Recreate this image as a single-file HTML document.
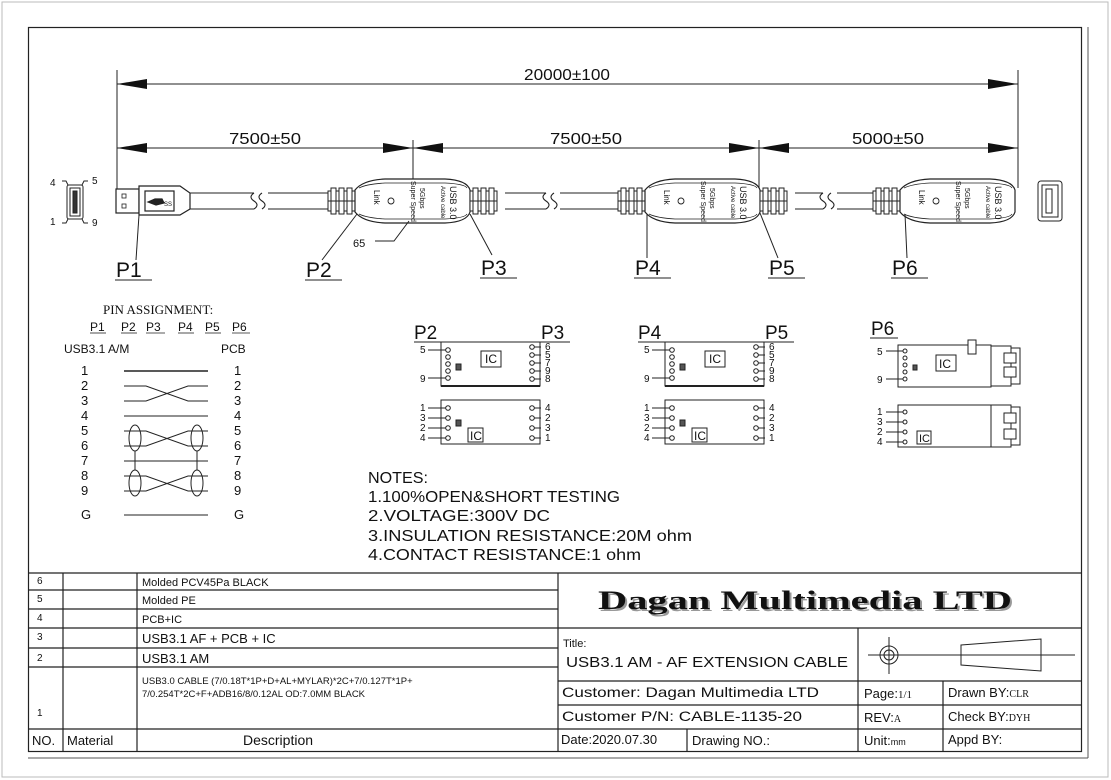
<!DOCTYPE html>
<html><head><meta charset="utf-8"><style>
html,body{margin:0;padding:0;background:#fff}
svg{display:block}
text{font-family:"Liberation Sans",sans-serif;fill:#111}
</style></head><body>
<svg width="1111" height="780" viewBox="0 0 1111 780" xmlns="http://www.w3.org/2000/svg">
<defs>
<g id="strain" fill="#fff" stroke="#222" stroke-width="1">
<rect x="0" y="191" width="27" height="20"/>
<rect x="3" y="188" width="5" height="26"/><rect x="11" y="188" width="5" height="26"/><rect x="19" y="188" width="5" height="26"/>
<line x1="0" y1="201" x2="27" y2="201"/>
</g>
<g id="body" fill="#fff" stroke="#222" stroke-width="1.2">
<path d="M0,190 Q8,180 30,179 L90,179 Q112,180 115,190 L115,212 Q112,222 90,223 L30,223 Q8,222 0,212 Z"/>
<path d="M4,188 Q12,184 30,183 L90,183 Q110,184 112,188" fill="none" stroke-width="0.8"/>
<path d="M4,214 Q12,218 30,219 L90,219 Q110,218 112,214" fill="none" stroke-width="0.8"/>
<circle cx="36" cy="201" r="3" fill="none" stroke-width="0.9"/>
</g>
<g id="ichi" fill="#fff" stroke="#222" stroke-width="1">
<rect x="0" y="0" width="99" height="44"/>
<line x1="0" y1="44" x2="99" y2="44" stroke-width="2"/>
<circle cx="7" cy="8" r="2.3"/><circle cx="7" cy="15" r="2.3"/><circle cx="7" cy="22" r="2.3"/><circle cx="7" cy="29" r="2.3"/><circle cx="7" cy="36" r="2.3"/>
<line x1="-13" y1="8" x2="5" y2="8"/><line x1="-13" y1="36" x2="5" y2="36"/>
<rect x="15" y="22" width="5" height="6" fill="#555"/>
<rect x="40" y="9" width="20" height="16"/>
<circle cx="91" cy="5" r="2.3"/><circle cx="91" cy="13" r="2.3"/><circle cx="91" cy="21" r="2.3"/><circle cx="91" cy="29" r="2.3"/><circle cx="91" cy="37" r="2.3"/>
<line x1="93" y1="5" x2="100" y2="5"/><line x1="93" y1="13" x2="100" y2="13"/><line x1="93" y1="21" x2="100" y2="21"/><line x1="93" y1="29" x2="100" y2="29"/><line x1="93" y1="37" x2="100" y2="37"/>
</g>
<g id="iclo" fill="#fff" stroke="#222" stroke-width="1">
<rect x="0" y="0" width="99" height="44"/>
<circle cx="7" cy="8" r="2.3"/><circle cx="7" cy="18" r="2.3"/><circle cx="7" cy="28" r="2.3"/><circle cx="7" cy="38" r="2.3"/>
<line x1="-13" y1="8" x2="5" y2="8"/><line x1="-13" y1="18" x2="5" y2="18"/><line x1="-13" y1="28" x2="5" y2="28"/><line x1="-13" y1="38" x2="5" y2="38"/>
<rect x="15" y="20" width="5" height="6" fill="#555"/>
<rect x="27" y="28" width="15" height="14"/>
<circle cx="91" cy="8" r="2.3"/><circle cx="91" cy="18" r="2.3"/><circle cx="91" cy="28" r="2.3"/><circle cx="91" cy="38" r="2.3"/>
<line x1="93" y1="8" x2="100" y2="8"/><line x1="93" y1="18" x2="100" y2="18"/><line x1="93" y1="28" x2="100" y2="28"/><line x1="93" y1="38" x2="100" y2="38"/>
</g>
</defs>

<rect x="2" y="2" width="1106" height="775" fill="none" stroke="#bbb" stroke-width="1"/>
<rect x="28.5" y="27.5" width="1053" height="724" fill="none" stroke="#222" stroke-width="1.2"/>
<line x1="1088" y1="27" x2="1088" y2="758" stroke="#555"/>
<line x1="28" y1="758" x2="1088" y2="758" stroke="#555"/>

<g stroke="#222" stroke-width="1">
<line x1="117" y1="70" x2="117" y2="190"/>
<line x1="1018" y1="70" x2="1018" y2="188"/>
<line x1="413" y1="140" x2="413" y2="179"/>
<line x1="759" y1="140" x2="759" y2="188"/>
<line x1="117" y1="84" x2="1018" y2="84"/>
<line x1="117" y1="148" x2="1018" y2="148"/>
</g>
<g fill="#111">
<path d="M117,84 L147,79 L147,89Z"/><path d="M1018,84 L988,79 L988,89Z"/>
<path d="M117,148 L147,143 L147,153Z"/><path d="M413,148 L383,143 L383,153Z"/>
<path d="M413,148 L443,143 L443,153Z"/><path d="M759,148 L729,143 L729,153Z"/>
<path d="M759,148 L789,143 L789,153Z"/><path d="M1018,148 L988,143 L988,153Z"/>
</g>
<text x="524" y="80" font-size="16" textLength="86" lengthAdjust="spacingAndGlyphs">20000±100</text>
<text x="229" y="144" font-size="16" textLength="72" lengthAdjust="spacingAndGlyphs">7500±50</text>
<text x="550" y="144" font-size="16" textLength="72" lengthAdjust="spacingAndGlyphs">7500±50</text>
<text x="852" y="144" font-size="16" textLength="72" lengthAdjust="spacingAndGlyphs">5000±50</text>

<g stroke="#222" fill="#fff" stroke-width="1">
<rect x="67" y="185" width="16" height="34" rx="2"/>
<rect x="70" y="188" width="10" height="28"/>
<rect x="73" y="191" width="4" height="22" fill="#333"/>
<path d="M62,181 L66,181 L68,185 M88,181 L84,181 L82,185 M62,223 L66,223 L68,219 M88,223 L84,223 L82,219" fill="none"/>
</g>
<text x="50" y="186" font-size="10">4</text><text x="92" y="184" font-size="10">5</text>
<text x="50" y="225" font-size="10">1</text><text x="92" y="226" font-size="10">9</text>

<g stroke="#222" fill="#fff" stroke-width="1.2">
<rect x="116" y="189" width="23" height="24"/>
<rect x="122" y="194" width="4" height="4" fill="none" stroke-width="0.8"/><rect x="122" y="204" width="4" height="4" fill="none" stroke-width="0.8"/>
<path d="M139,186 L180,186 L190,193 L190,209 L180,215 L139,215 Z"/>
<rect x="145" y="191" width="29" height="20"/>
<path d="M148,202 L155,199 L162,199 L164,203 L156,205 Z" fill="#222"/>
</g>
<text x="164" y="206" font-size="6">SS</text>

<g stroke="#222" stroke-width="1.1" fill="none">
<path d="M190,193 L254,193 M190,209 L254,209 M268,193 L328,193 M268,209 L328,209"/>
<path d="M254,193 q-6,4 0,8 q6,4 0,8 M262,193 q-6,4 0,8 q6,4 0,8"/>
<path d="M505,193 L546,193 M505,209 L546,209 M560,193 L620,193 M560,209 L620,209"/>
<path d="M546,193 q-6,4 0,8 q6,4 0,8 M554,193 q-6,4 0,8 q6,4 0,8"/>
<path d="M795,193 L823,193 M795,209 L823,209 M837,193 L875,193 M837,209 L875,209"/>
<path d="M823,193 q-6,4 0,8 q6,4 0,8 M831,193 q-6,4 0,8 q6,4 0,8"/>
</g>

<use href="#strain" x="328"/><use href="#body" x="355"/><use href="#strain" x="470"/>
<use href="#strain" x="618"/><use href="#body" x="645"/><use href="#strain" x="760"/>
<use href="#strain" x="873"/><use href="#body" x="900"/>

<g font-size="8">
<text transform="translate(374,190) rotate(90)">Link</text>
<text transform="translate(411,181) rotate(90)" font-size="7">Super Speed</text>
<text transform="translate(420,188) rotate(90)" font-size="7">5Gbps</text>
<text transform="translate(450,186) rotate(90)" font-size="9">USB 3.0</text>
<text transform="translate(441,186) rotate(90)" font-size="6">Active cable</text>
<text transform="translate(664,190) rotate(90)">Link</text>
<text transform="translate(701,181) rotate(90)" font-size="7">Super Speed</text>
<text transform="translate(710,188) rotate(90)" font-size="7">5Gbps</text>
<text transform="translate(740,186) rotate(90)" font-size="9">USB 3.0</text>
<text transform="translate(731,186) rotate(90)" font-size="6">Active cable</text>
<text transform="translate(919,190) rotate(90)">Link</text>
<text transform="translate(956,181) rotate(90)" font-size="7">Super Speed</text>
<text transform="translate(965,188) rotate(90)" font-size="7">5Gbps</text>
<text transform="translate(995,186) rotate(90)" font-size="9">USB 3.0</text>
<text transform="translate(986,186) rotate(90)" font-size="6">Active cable</text>
</g>

<g stroke="#222" fill="#fff" stroke-width="1">
<rect x="1038" y="181" width="24" height="40" rx="3"/>
<rect x="1042" y="185" width="16" height="32"/>
<rect x="1046" y="189" width="6" height="24"/>
</g>

<g stroke="#222" stroke-width="1" fill="none">
<path d="M139,215 L136,260"/>
<path d="M357,214 L322,260"/>
<path d="M409,221 L394,241 L375,241"/>
<path d="M470,214 L492,255"/>
<path d="M647,214 L647,258"/>
<path d="M760,213 L778,258"/>
<path d="M905,214 L907,258"/>
<line x1="115" y1="280" x2="152" y2="280"/>
<line x1="305" y1="280" x2="342" y2="280"/>
<line x1="480" y1="278" x2="517" y2="278"/>
<line x1="634" y1="278" x2="671" y2="278"/>
<line x1="768" y1="278" x2="805" y2="278"/>
<line x1="891" y1="278" x2="928" y2="278"/>
</g>
<text x="353" y="247" font-size="11">65</text>
<g font-size="21">
<text x="116" y="277">P1</text><text x="306" y="277">P2</text><text x="481" y="275">P3</text>
<text x="635" y="275">P4</text><text x="769" y="275">P5</text><text x="892" y="275">P6</text>
</g>

<text x="103" y="314" font-size="13" style="font-family:'Liberation Serif',serif">PIN ASSIGNMENT:</text>
<g font-size="12">
<text x="90" y="331">P1</text><text x="121" y="331">P2</text><text x="146" y="331">P3</text>
<text x="178" y="331">P4</text><text x="205" y="331">P5</text><text x="232" y="331">P6</text>
</g>
<g stroke="#222" stroke-width="0.8">
<line x1="90" y1="333" x2="106" y2="333"/><line x1="121" y1="333" x2="137" y2="333"/><line x1="146" y1="333" x2="165" y2="333"/>
<line x1="178" y1="333" x2="194" y2="333"/><line x1="205" y1="333" x2="221" y2="333"/><line x1="232" y1="333" x2="250" y2="333"/>
</g>
<text x="64" y="353" font-size="12">USB3.1  A/M</text>
<text x="221" y="353" font-size="12">PCB</text>
<g font-size="13">
<text x="81" y="375">1</text><text x="81" y="390">2</text><text x="81" y="405">3</text><text x="81" y="420">4</text>
<text x="81" y="435">5</text><text x="81" y="450">6</text><text x="81" y="465">7</text><text x="81" y="480">8</text>
<text x="81" y="495">9</text><text x="81" y="519">G</text>
<text x="234" y="375">1</text><text x="234" y="390">2</text><text x="234" y="405">3</text><text x="234" y="420">4</text>
<text x="234" y="435">5</text><text x="234" y="450">6</text><text x="234" y="465">7</text><text x="234" y="480">8</text>
<text x="234" y="495">9</text><text x="234" y="519">G</text>
</g>
<g stroke="#222" stroke-width="1" fill="none">
<line x1="124" y1="371" x2="208" y2="371" stroke-width="1.4"/>
<path d="M124,386 L146,386 L188,401 L208,401 M124,401 L146,401 L188,386 L208,386"/>
<line x1="124" y1="416" x2="208" y2="416"/>
<path d="M124,431 L146,431 L188,446 L208,446 M124,446 L146,446 L188,431 L208,431"/>
<line x1="124" y1="461" x2="208" y2="461"/>
<path d="M124,476 L146,476 L188,491 L208,491 M124,491 L146,491 L188,476 L208,476"/>
<line x1="124" y1="515" x2="208" y2="515"/>
<ellipse cx="135" cy="438" rx="6" ry="13"/><ellipse cx="197" cy="438" rx="6" ry="13"/>
<ellipse cx="135" cy="483" rx="6" ry="13"/><ellipse cx="197" cy="483" rx="6" ry="13"/>
<line x1="135" y1="451" x2="135" y2="470"/><line x1="197" y1="451" x2="197" y2="470"/>
</g>

<g font-size="19"><text x="414" y="339">P2</text><text x="541" y="339">P3</text>
<text x="638" y="339">P4</text><text x="765" y="339">P5</text><text x="871" y="335">P6</text></g>
<g stroke="#222" stroke-width="0.9"><line x1="414" y1="342" x2="441" y2="342"/><line x1="540" y1="342" x2="570" y2="342"/>
<line x1="638" y1="342" x2="665" y2="342"/><line x1="764" y1="342" x2="794" y2="342"/><line x1="870" y1="338" x2="898" y2="338"/></g>
<use href="#ichi" x="441" y="342"/><use href="#iclo" x="441" y="400"/>
<use href="#ichi" x="665" y="342"/><use href="#iclo" x="665" y="400"/>
<g font-size="10">
<text x="420" y="353">5</text><text x="420" y="382">9</text>
<text x="545" y="350">6</text><text x="545" y="358">5</text><text x="545" y="366">7</text><text x="545" y="374">9</text><text x="545" y="382">8</text>
<text x="420" y="411">1</text><text x="420" y="421">3</text><text x="420" y="431">2</text><text x="420" y="441">4</text>
<text x="545" y="411">4</text><text x="545" y="421">2</text><text x="545" y="431">3</text><text x="545" y="441">1</text>
<text x="644" y="353">5</text><text x="644" y="382">9</text>
<text x="769" y="350">6</text><text x="769" y="358">5</text><text x="769" y="366">7</text><text x="769" y="374">9</text><text x="769" y="382">8</text>
<text x="644" y="411">1</text><text x="644" y="421">3</text><text x="644" y="431">2</text><text x="644" y="441">4</text>
<text x="769" y="411">4</text><text x="769" y="421">2</text><text x="769" y="431">3</text><text x="769" y="441">1</text>
</g>
<g font-size="12"><text x="485" y="363">IC</text><text x="709" y="363">IC</text><text x="470" y="440">IC</text><text x="694" y="440">IC</text></g>

<g stroke="#222" fill="#fff" stroke-width="1">
<rect x="898" y="345" width="93" height="42"/>
<rect x="968" y="340" width="8" height="14"/>
<rect x="991" y="346" width="20" height="40"/>
<rect x="1011" y="348" width="9" height="36"/>
<rect x="1004" y="353" width="12" height="10"/><rect x="1004" y="367" width="12" height="10"/>
<circle cx="905" cy="351" r="2"/><circle cx="905" cy="358" r="2"/><circle cx="905" cy="365" r="2"/><circle cx="905" cy="372" r="2"/><circle cx="905" cy="379" r="2"/>
<line x1="886" y1="351" x2="903" y2="351"/><line x1="886" y1="379" x2="903" y2="379"/>
<rect x="913" y="365" width="4" height="5" fill="#555"/>
<rect x="936" y="355" width="20" height="16"/>
<rect x="898" y="405" width="93" height="42"/>
<rect x="991" y="405" width="20" height="42"/>
<rect x="1011" y="407" width="9" height="38"/>
<rect x="1004" y="413" width="12" height="10"/><rect x="1004" y="429" width="12" height="10"/>
<circle cx="905" cy="412" r="2"/><circle cx="905" cy="422" r="2"/><circle cx="905" cy="432" r="2"/><circle cx="905" cy="442" r="2"/>
<line x1="886" y1="412" x2="903" y2="412"/><line x1="886" y1="422" x2="903" y2="422"/><line x1="886" y1="432" x2="903" y2="432"/><line x1="886" y1="442" x2="903" y2="442"/>
<rect x="917" y="431" width="14" height="13"/>
</g>
<g font-size="10"><text x="877" y="355">5</text><text x="877" y="383">9</text>
<text x="877" y="415">1</text><text x="877" y="425">3</text><text x="877" y="435">2</text><text x="877" y="445">4</text></g>
<text x="939" y="368" font-size="12">IC</text><text x="919" y="442" font-size="11">IC</text>

<g font-size="16">
<text x="368" y="483" textLength="60" lengthAdjust="spacingAndGlyphs">NOTES:</text>
<text x="368" y="502" textLength="252" lengthAdjust="spacingAndGlyphs">1.100%OPEN&amp;SHORT TESTING</text>
<text x="368" y="521" textLength="182" lengthAdjust="spacingAndGlyphs">2.VOLTAGE:300V  DC</text>
<text x="368" y="541" textLength="324" lengthAdjust="spacingAndGlyphs">3.INSULATION RESISTANCE:20M  ohm</text>
<text x="368" y="560" textLength="273" lengthAdjust="spacingAndGlyphs">4.CONTACT RESISTANCE:1  ohm</text>
</g>

<g stroke="#222" stroke-width="1.2" fill="none">
<line x1="28" y1="573" x2="1082" y2="573"/>
<line x1="28" y1="590" x2="558" y2="590"/>
<line x1="28" y1="609" x2="558" y2="609"/>
<line x1="28" y1="628" x2="1082" y2="628"/>
<line x1="28" y1="648" x2="558" y2="648"/>
<line x1="28" y1="667" x2="558" y2="667"/>
<line x1="28" y1="729" x2="1082" y2="729"/>
<line x1="558" y1="681" x2="1082" y2="681"/>
<line x1="558" y1="705" x2="1082" y2="705"/>
<line x1="63" y1="573" x2="63" y2="752"/>
<line x1="137" y1="573" x2="137" y2="752"/>
<line x1="558" y1="573" x2="558" y2="752"/>
<line x1="858" y1="628" x2="858" y2="752"/>
<line x1="943" y1="681" x2="943" y2="752"/>
<line x1="687" y1="729" x2="687" y2="752"/>
</g>
<g font-size="10"><text x="37" y="584">6</text><text x="37" y="602">5</text><text x="37" y="621">4</text>
<text x="37" y="640">3</text><text x="37" y="661">2</text><text x="37" y="716">1</text></g>
<g font-size="11">
<text x="142" y="586">Molded PCV45Pa BLACK</text>
<text x="142" y="604">Molded PE</text>
<text x="142" y="623">PCB+IC</text>
</g>
<text x="142" y="643" font-size="13">USB3.1  AF  +  PCB  +  IC</text>
<text x="142" y="663" font-size="13">USB3.1  AM</text>
<text x="142" y="684" font-size="9.5">USB3.0 CABLE (7/0.18T*1P+D+AL+MYLAR)*2C+7/0.127T*1P+</text>
<text x="142" y="697" font-size="9.5">7/0.254T*2C+F+ADB16/8/0.12AL  OD:7.0MM BLACK</text>
<text x="32" y="745" font-size="13">NO.</text>
<text x="67" y="745" font-size="13">Material</text>
<text x="243" y="745" font-size="14">Description</text>
<text x="600" y="611" font-size="26" font-weight="bold" style="font-family:'Liberation Serif',serif;fill:#999" textLength="414" lengthAdjust="spacingAndGlyphs">Dagan Multimedia LTD</text>
<text x="598" y="609" font-size="26" font-weight="bold" style="font-family:'Liberation Serif',serif" textLength="414" lengthAdjust="spacingAndGlyphs">Dagan Multimedia LTD</text>
<text x="563" y="647" font-size="11">Title:</text>
<text x="566" y="667" font-size="15" textLength="282" lengthAdjust="spacingAndGlyphs">USB3.1   AM - AF EXTENSION CABLE</text>
<g stroke="#222" stroke-width="1" fill="none">
<line x1="868" y1="655" x2="1075" y2="655"/>
<line x1="889" y1="637" x2="889" y2="674"/>
<circle cx="889" cy="655" r="9"/><circle cx="889" cy="655" r="5"/>
<path d="M961,645 L1041,639 L1041,671 L961,665 Z"/>
</g>
<text x="562" y="697" font-size="14" textLength="257" lengthAdjust="spacingAndGlyphs">Customer: Dagan  Multimedia  LTD</text>
<text x="562" y="721" font-size="14" textLength="240" lengthAdjust="spacingAndGlyphs">Customer  P/N:  CABLE-1135-20</text>
<text x="864" y="698" font-size="13">Page:<tspan style="font-family:'Liberation Serif',serif" font-size="11">1/1</tspan></text>
<text x="864" y="722" font-size="13">REV:<tspan style="font-family:'Liberation Serif',serif" font-size="10">A</tspan></text>
<text x="948" y="697" font-size="13">Drawn  BY:<tspan style="font-family:'Liberation Serif',serif" font-size="10">CLR</tspan></text>
<text x="948" y="721" font-size="13">Check  BY:<tspan style="font-family:'Liberation Serif',serif" font-size="10">DYH</tspan></text>
<text x="561" y="744" font-size="13">Date:2020.07.30</text>
<text x="692" y="745" font-size="13">Drawing  NO.:</text>
<text x="864" y="745" font-size="13">Unit:<tspan font-size="9">mm</tspan></text>
<text x="948" y="744" font-size="13">Appd  BY:</text>
</svg>
</body></html>
